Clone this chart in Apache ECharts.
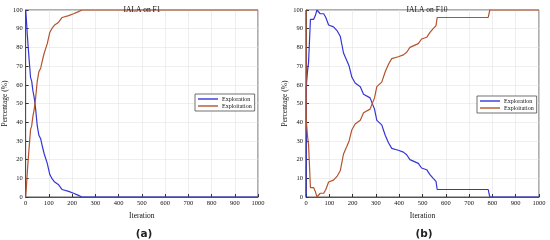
<!DOCTYPE html>
<html><head><meta charset="utf-8">
<script src="https://cdn.jsdelivr.net/npm/echarts@6/dist/echarts.min.js"></script>
<style>html,body{margin:0;padding:0;background:#fff}#c{width:550px;height:240px}</style>
</head><body><div id="c"></div>
<script>
const xTicks = [0,100,200,300,400,500,600,700,800,900,1000];
const yTicks = [0,10,20,30,40,50,60,70,80,90,100];

const f1Iter = [0,3,7,11,16,21,26,31,37,43,50,57,65,72,80,93,104,115,125,142,157,185,206,225,242,1000];
const f1Explore = [100,95,87,80,72,64,62,57,53,47,38,33,31,27,23,18,12,9.5,8,6.5,4,3,2,1,0,0];
const f1Exploit = [0,5,13,20,28,36,38,43,47,53,62,67,69,73,77,82,88,90.5,92,93.5,96,97,98,99,100,100];

const f10Iter = [0,1,3,7,11,13,19,33,40,47,54,61,76,85,97,118,133,147,161,175,185,197,211,233,247,275,282,294,304,325,340,354,368,396,418,432,446,482,496,518,532,546,558,563,782,789,1000];
const f10Explore = [0,58,62,68,72,73,95,95,97,100,100,98,98,96,92,91,89,86,77,73,70,64,61,59,55,53,52,47,41,38.6,33,29,26,25,24,22.6,20,18,15.5,14.6,12,10,8.4,4,4,0,0];
const f10Exploit = [100,42,38,32,28,27,5,5,3,0,0,2,2,4,8,9,11,14,23,27,30,36,39,41,45,47,48,53,59,61.4,67,71,74,75,76,77.4,80,82,84.5,85.4,88,90,91.6,96,96,100,100];

const pairs = (xs, ys) => xs.map((x, i) => [x, ys[i]]);
const serif = 'Liberation Serif';
const blue = '#3535d8', brown = '#b4532d';

function xAxis(gi) {
  return { type:'value', gridIndex:gi, min:xTicks[0], max:xTicks[xTicks.length-1], interval:100,
    name:'Iteration', nameLocation:'middle', nameGap:10, nameTextStyle:{fontFamily:serif,fontSize:7.5,color:'#111'},
    axisLine:{show:true,lineStyle:{color:'#333',width:0.8}}, axisTick:{show:true,inside:true,length:3,lineStyle:{color:'#333'}},
    axisLabel:{fontFamily:serif,fontSize:6.5,color:'#111',margin:3,formatter:v=>String(v)},
    splitLine:{show:true,lineStyle:{color:'#e2e2e2',width:0.6}} };
}
function yAxis(gi) {
  return { type:'value', gridIndex:gi, min:yTicks[0], max:yTicks[yTicks.length-1], interval:10,
    name:'Percentage (%)', nameLocation:'middle', nameGap:14, nameTextStyle:{fontFamily:serif,fontSize:7.5,color:'#111'},
    axisLine:{show:true,lineStyle:{color:'#333',width:0.8}}, axisTick:{show:true,inside:true,length:3,lineStyle:{color:'#333'}},
    axisLabel:{fontFamily:serif,fontSize:6.5,color:'#111',margin:3,formatter:v=>String(v)},
    splitLine:{show:true,lineStyle:{color:'#e2e2e2',width:0.6}} };
}
function line(name, data, gi, color) {
  return { name, type:'line', xAxisIndex:gi, yAxisIndex:gi, data, showSymbol:false, symbol:'none',
    lineStyle:{color,width:1.2}, itemStyle:{color}, animation:false };
}
const icon = 'path://M0,0H20V1.4H0Z';
function legend(left, top) {
  return { orient:'vertical', left, top, data:['Exploration','Exploitation'], icon, itemWidth:20, itemHeight:7,
    itemGap:1, padding:[2,3,2,3], backgroundColor:'#fff', borderColor:'#333', borderWidth:0.7,
    textStyle:{fontFamily:serif,fontSize:6,color:'#111',padding:[0,0,0,-1]} };
}

const chart = echarts.init(document.getElementById('c'), null, {renderer:'canvas'});
chart.setOption({
  animation:false,
  title:[
    {text:'IALA on F1', left:137, top:1, textAlign:'center', textStyle:{fontFamily:serif,fontSize:7.5,fontWeight:'normal',color:'#111'}},
    {text:'IALA on F10', left:422, top:1, textAlign:'center', textStyle:{fontFamily:serif,fontSize:7.5,fontWeight:'normal',color:'#111'}},
    {text:'(a)', left:139, top:224, textAlign:'center', textStyle:{fontFamily:'DejaVu Sans',fontSize:10.5,fontWeight:'bold',color:'#222'}},
    {text:'(b)', left:419, top:224, textAlign:'center', textStyle:{fontFamily:'DejaVu Sans',fontSize:10.5,fontWeight:'bold',color:'#222'}}
  ],
  grid:[
    {left:23, top:10, width:235, height:187, show:true, borderColor:'#333', borderWidth:0.8, backgroundColor:'transparent'},
    {left:306, top:10, width:233, height:187, show:true, borderColor:'#333', borderWidth:0.8, backgroundColor:'transparent'}
  ],
  xAxis:[xAxis(0), xAxis(1)],
  yAxis:[yAxis(0), yAxis(1)],
  legend:[legend(195, 94), legend(477, 96)],
  series:[
    line('Exploration', pairs(f1Iter, f1Explore), 0, blue),
    line('Exploitation', pairs(f1Iter, f1Exploit), 0, brown),
    line('Exploration', pairs(f10Iter, f10Explore), 1, blue),
    line('Exploitation', pairs(f10Iter, f10Exploit), 1, brown)
  ]
});
</script></body></html>
